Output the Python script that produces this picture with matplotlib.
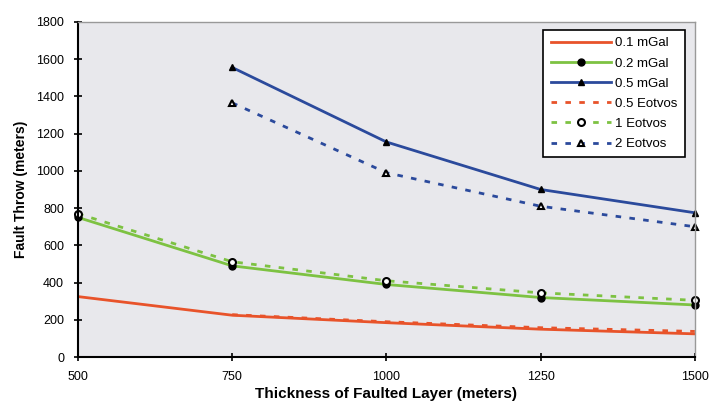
import matplotlib
matplotlib.use("Agg")
import matplotlib.pyplot as plt

plt.rcParams['font.family'] = ['Liberation Sans', 'DejaVu Sans']

thickness = [500, 750, 1000, 1250, 1500]
thickness_eot = [750, 1000, 1250, 1500]

mgal_01 = [325, 225, 185, 150, 125]
mgal_02 = [750, 490, 390, 320, 280]
mgal_05 = [1555, 1155, 900, 775]
eot_05 = [228, 190, 158, 138]
eot_1 = [770, 512, 410, 345, 305]
eot_2 = [1365, 990, 810, 700]

red = '#E8532A'
green = '#7DC242'
blue = '#2B4A9C'

fig = plt.figure(figsize=(7.09, 4.04), dpi=100)
ax = fig.add_axes([0.110, 0.116, 0.870, 0.830])
ax.set_facecolor('#E8E8EC')

ax.plot(thickness, mgal_01, color=red, lw=2, label='0.1 mGal')
ax.plot(thickness, mgal_02, color=green, lw=2, marker='o', ms=5,
        mfc='black', mec='black', label='0.2 mGal', clip_on=False)
ax.plot(thickness_eot, mgal_05, color=blue, lw=2, marker='^', ms=5,
        mfc='black', mec='black', label='0.5 mGal', clip_on=False)
ax.plot(thickness_eot, eot_05, color=red, lw=2, ls=(0, (2, 3)),
        label='0.5 Eotvos')
ax.plot(thickness, eot_1, color=green, lw=2, ls=(0, (2, 3)), marker='o',
        ms=5, mfc='white', mec='black', mew=1.5, label='1 Eotvos',
        clip_on=False)
ax.plot(thickness_eot, eot_2, color=blue, lw=2, ls=(0, (2, 3)), marker='^',
        ms=5, mfc='white', mec='black', mew=1.5, label='2 Eotvos',
        clip_on=False)

ax.set_xlim(500, 1500)
ax.set_ylim(0, 1800)
ax.set_xticks(thickness)
ax.set_yticks(range(0, 1801, 200))
ax.tick_params(labelsize=9, direction='inout', length=6, width=1.2, pad=7)

for s in ['left', 'bottom']:
    ax.spines[s].set_color('black')
    ax.spines[s].set_linewidth(1.5)
for s in ['top', 'right']:
    ax.spines[s].set_color('#999999')
    ax.spines[s].set_linewidth(1)

ax.set_xlabel('Thickness of Faulted Layer (meters)', fontsize=11,
              fontweight='bold', labelpad=3)
ax.set_ylabel('Fault Throw (meters)', fontsize=10, fontweight='bold',
              labelpad=6)

leg = ax.legend(loc='upper right', bbox_to_anchor=(0.984, 0.976),
                borderaxespad=0, numpoints=1, fontsize=9.5, handlelength=4.6,
                frameon=True, fancybox=False, framealpha=1, edgecolor='black',
                borderpad=0.55, labelspacing=0.6, handletextpad=0.3)
leg.get_frame().set_linewidth(1.2)

fig.savefig('out.png', dpi=100)
